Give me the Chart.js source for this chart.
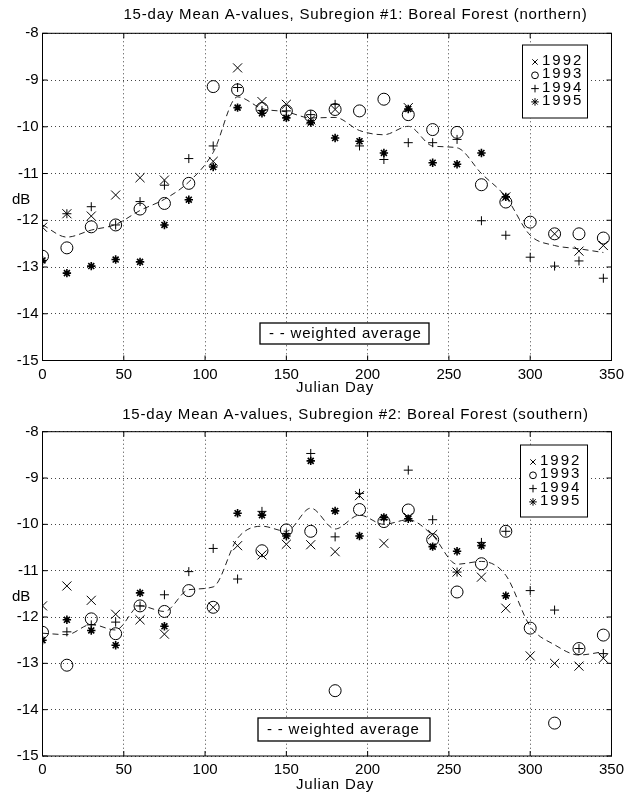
<!DOCTYPE html>
<html>
<head>
<meta charset="utf-8">
<script src="https://cdn.jsdelivr.net/npm/chart.js@4.4.1/dist/chart.umd.min.js"></script>
<style>
  body { margin: 0; background: #fff; }
  canvas { display: block; }
</style>
</head>
<body>
<canvas id="chart1" width="629" height="397"></canvas>
<canvas id="chart2" width="629" height="397"></canvas>
<script>
// 15-day periods (Julian day)
const days = [0, 15, 30, 45, 60, 75, 90, 105, 120, 135, 150, 165, 180, 195, 210, 225, 240, 255, 270, 285, 300, 315, 330, 345];
const xTicks = [0, 50, 100, 150, 200, 250, 300, 350];
const yTicks = [-15, -14, -13, -12, -11, -10, -9, -8];
const years = ['1992', '1993', '1994', '1995'];

// subregion #1 (northern)
const north1992 = [-12.15, -11.86, -11.91, -11.46, -11.09, -11.14, null, -10.74, -8.74, -9.46, -9.52, -9.85, -9.63, null, null, -9.59, null, null, null, -11.5, null, -12.29, -12.66, -12.54];
const north1993 = [-12.77, -12.59, -12.14, -12.1, -11.76, -11.64, -11.21, -9.14, -9.21, -9.61, -9.66, -9.77, -9.63, -9.66, -9.41, -9.74, -10.06, -10.12, -11.24, -11.61, -12.04, -12.29, -12.29, -12.38];
const north1994 = [null, -11.86, -11.71, -12.1, -11.6, -11.25, -10.68, -10.41, -9.16, -9.65, -9.66, -9.74, -9.52, -10.41, -10.7, -10.34, -10.34, -10.27, -12.01, -12.32, -12.79, -12.98, -12.87, -13.24];
const north1995 = [-12.86, -13.13, -12.98, -12.84, -12.89, -12.1, -11.56, -10.86, -9.59, -9.71, -9.81, -9.91, -10.24, -10.31, -10.56, -9.62, -10.77, -10.8, -10.56, -11.5, null, null, null, null];
const northAvg = [-12.1, -12.36, -12.21, -12.09, -11.79, -11.55, -11.18, -10.55, -9.36, -9.61, -9.68, -9.81, -9.8, -10.08, -10.17, -9.99, -10.41, -10.45, -11.0, -11.5, -12.32, -12.54, -12.61, -12.69];

// subregion #2 (southern)
const south1992 = [-11.76, -11.33, -11.64, -11.94, -12.06, -12.37, null, -11.79, -10.46, -10.66, -10.43, -10.44, -10.59, -9.38, -10.41, -9.85, -10.22, -11.03, -11.14, -11.81, -12.84, -13.0, -13.06, -12.89];
const south1993 = [-12.33, -13.04, -12.04, -12.36, -11.76, -11.88, -11.43, -11.79, null, -10.57, -10.12, -10.15, -13.59, -9.68, -9.94, -9.69, -10.33, -11.46, -10.85, -10.15, -12.24, -14.29, -12.68, -12.39];
const south1994 = [null, -12.32, -12.17, -12.11, -11.76, -11.52, -11.02, -10.52, -11.18, -9.72, -10.2, -8.47, -10.27, -9.33, -9.9, -8.83, -9.9, -11.03, -10.39, -10.15, -11.43, -11.85, -12.68, -12.79];
const south1995 = [-12.5, -12.06, -12.29, -12.61, -11.48, -12.2, null, null, -9.76, -9.8, -10.25, -8.63, -9.71, -10.25, -9.85, -9.88, -10.48, -10.58, -10.46, -11.54, null, null, null, null];
const southAvg = [-12.35, -12.38, -12.16, -12.28, -11.76, -11.88, -11.41, -11.35, -10.3, -10.04, -10.15, -9.65, -10.1, -9.8, -10.0, -9.9, -10.24, -10.86, -10.8, -11.1, -12.2, -12.6, -12.82, -12.75];

Chart.defaults.font.family = '"Liberation Sans", Arial, sans-serif';
Chart.defaults.font.size = 14;
Chart.defaults.color = '#000';

function pts(arr) {
  return days.map((d, i) => ({ x: d, y: arr[i] })).filter(p => p.y !== null);
}

const marks = [
  { style: 'crossRot', radius: 6.4, width: 1 },
  { style: 'circle', radius: 6, width: 1 },
  { style: 'cross', radius: 4.5, width: 1 },
  { style: 'star', radius: 4.2, width: 1.6 }
];

// frame, inward ticks, titles, dB label and the two legend boxes
const matlabLook = {
  id: 'matlabLook',
  afterDraw(chart, args, o) {
    const ctx = chart.ctx;
    const a = chart.chartArea;
    const xs = chart.scales.x, ys = chart.scales.y;
    ctx.save();
    ctx.strokeStyle = '#000';
    ctx.lineWidth = 1;
    ctx.strokeRect(a.left, a.top, a.right - a.left, a.bottom - a.top);
    ctx.beginPath();
    xTicks.forEach(v => {
      const px = xs.getPixelForValue(v);
      ctx.moveTo(px, a.bottom); ctx.lineTo(px, a.bottom - 5);
      ctx.moveTo(px, a.top); ctx.lineTo(px, a.top + 5);
    });
    yTicks.forEach(v => {
      const py = ys.getPixelForValue(v);
      ctx.moveTo(a.left, py); ctx.lineTo(a.left + 5, py);
      ctx.moveTo(a.right, py); ctx.lineTo(a.right - 5, py);
    });
    ctx.stroke();

    ctx.fillStyle = '#000';
    ctx.font = '15px "Liberation Sans", Arial, sans-serif';
    ctx.textAlign = 'center';
    ctx.textBaseline = 'middle';
    ctx.letterSpacing = '0.8px';
    ctx.fillText(o.title, o.titleX, o.titleY);
    ctx.fillText('Julian Day', 335, 388);
    ctx.letterSpacing = '0px';
    ctx.textAlign = 'left';
    ctx.fillText('dB', 12, o.dbY);

    // year legend
    const b = o.legendBox;
    ctx.fillStyle = '#fff';
    ctx.fillRect(b.x, b.y, b.w, b.h);
    ctx.strokeRect(b.x, b.y, b.w, b.h);
    ctx.letterSpacing = '2px';
    years.forEach((yr, i) => {
      const ly = b.y + 16 + i * 13.3;
      const m = marks[i];
      ctx.fillStyle = 'rgba(0,0,0,0)';
      ctx.strokeStyle = '#000';
      Chart.helpers.drawPoint(ctx, {
        pointStyle: m.style,
        radius: i === 1 ? 3.4 : 3.8,
        borderWidth: m.width
      }, b.x + 12.5, ly + 1);
      ctx.fillStyle = '#000';
      ctx.fillText(yr, b.x + 19.5, ly);
    });

    // weighted average box
    const w = o.avgBox;
    ctx.letterSpacing = '0.8px';
    ctx.fillStyle = '#fff';
    ctx.fillRect(w.x, w.y, w.w, w.h);
    ctx.lineWidth = 1.3;
    ctx.strokeRect(w.x, w.y, w.w, w.h);
    ctx.fillStyle = '#000';
    ctx.fillText('- - weighted average', w.x + 9, w.y + w.h / 2);
    ctx.restore();
  }
};

function makeChart(id, series, avg, geo) {
  const datasets = series.map((s, i) => ({
    label: years[i],
    data: pts(s),
    pointStyle: marks[i].style,
    pointRadius: marks[i].radius,
    pointBorderWidth: marks[i].width,
    pointBorderColor: '#000',
    pointBackgroundColor: 'rgba(0,0,0,0)',
    showLine: false
  }));
  datasets.push({
    label: 'weighted average',
    data: pts(avg),
    showLine: true,
    borderColor: '#222',
    borderWidth: 1,
    borderDash: [6, 4],
    pointRadius: 0,
    cubicInterpolationMode: 'monotone'
  });

  return new Chart(document.getElementById(id), {
    type: 'scatter',
    data: { datasets: datasets },
    options: {
      responsive: false,
      animation: false,
      events: [],
      layout: { padding: { top: geo.top, right: 17.5, left: 0, bottom: 0 } },
      scales: {
        x: {
          type: 'linear',
          min: 0,
          max: 350,
          afterBuildTicks: s => { s.ticks = xTicks.map(v => ({ value: v })); },
          afterFit: s => { s.height = 397 - geo.bottom; },
          grid: { color: '#444', lineWidth: 1, drawTicks: false },
          border: { display: false, dash: [1, 3] },
          ticks: { padding: 5, maxRotation: 0, font: { size: 15 } }
        },
        y: {
          min: -15,
          max: -8,
          afterBuildTicks: s => { s.ticks = yTicks.map(v => ({ value: v })); },
          afterFit: s => { s.width = 42.5; },
          grid: { color: '#444', lineWidth: 1, drawTicks: false },
          border: { display: false, dash: [1, 3] },
          ticks: { padding: 4, font: { size: 15 } }
        }
      },
      plugins: {
        legend: { display: false },
        tooltip: { enabled: false },
        matlabLook: geo.look
      }
    },
    plugins: [matlabLook]
  });
}

makeChart('chart1', [north1992, north1993, north1994, north1995], northAvg, {
  top: 33.3,
  bottom: 360.5,
  look: {
    title: '15-day Mean A-values, Subregion #1: Boreal Forest (northern)',
    titleX: 355.5, titleY: 15, dbY: 200,
    legendBox: { x: 522.5, y: 45, w: 65, h: 73 },
    avgBox: { x: 260, y: 323, w: 169, h: 21 }
  }
});

makeChart('chart2', [south1992, south1993, south1994, south1995], southAvg, {
  top: 34.7,
  bottom: 359,
  look: {
    title: '15-day Mean A-values, Subregion #2: Boreal Forest (southern)',
    titleX: 355.5, titleY: 18, dbY: 200,
    legendBox: { x: 520.5, y: 48, w: 67, h: 72 },
    avgBox: { x: 258, y: 321, w: 172, h: 23 }
  }
});
</script>
</body>
</html>
